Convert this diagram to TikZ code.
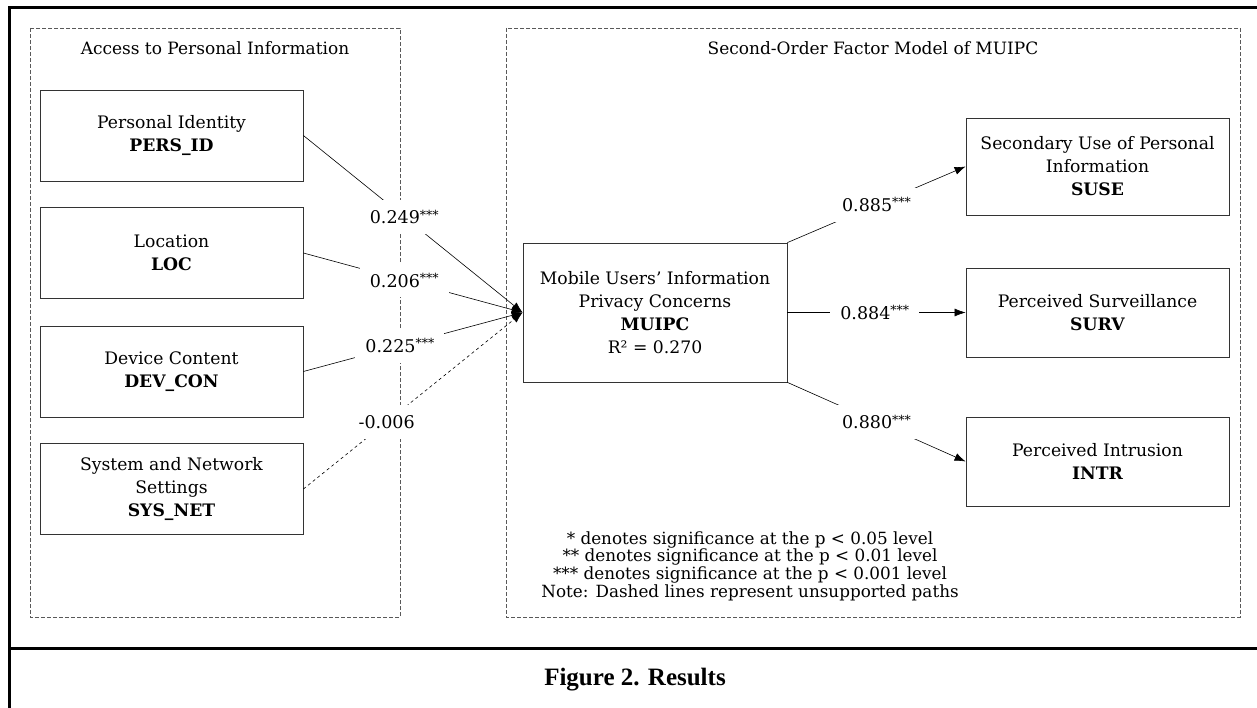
\documentclass[tikz,border=0pt]{standalone}
\usepackage{fontspec}
\setmainfont{DejaVu Serif}
\newfontfamily\capfont{Liberation Serif}
\usetikzlibrary{arrows.meta}
\usetikzlibrary{positioning}

\newcommand{\stars}{\raisebox{0.5ex}{\fontsize{12.5}{12.5}\selectfont ***}}

\tikzset{
  factor/.style={draw=black!80, line width=0.8pt, align=center, minimum width=263pt,
    minimum height=91pt, inner sep=0pt, font=\fontsize{17.2}{23}\selectfont},
  group/.style={draw=black!65, dash pattern=on 4pt off 2pt, line width=0.8pt},
  coef/.style={fill=white, inner xsep=10pt, inner ysep=10pt, font=\fontsize{17.5}{20}\selectfont},
  heading/.style={font=\fontsize{17}{20}\selectfont},
}

\begin{document}
\begin{tikzpicture}[x=1pt,y=-1pt,>={Latex[length=11pt,width=8pt]}]
        \useasboundingbox (0,0) rectangle (1257,708);
        % frame
        \draw[line width=3pt] (1257,8) -- (9,8) -- (9,708);
        \draw[line width=3pt] (9,648) -- (1257,648);
        % groups
        \draw[group] (30,28) rectangle (400,617);
        \draw[group] (506,28) rectangle (1240,617);
        \node[heading] (h_access) at (215,48) {Access to Personal Information};
        \node[heading] (h_model)  at (873,48) {Second-Order Factor Model of MUIPC};
        % factors
        \node[factor] (pers_id) at (171.5,135.5) {Personal Identity\\\textbf{PERS\_ID}};
        \node[factor] (loc)     at (171.5,253)   {Location\\\textbf{LOC}};
        \node[factor] (dev_con) at (171.5,371.5) {Device Content\\\textbf{DEV\_CON}};
        \node[factor] (sys_net) at (171.5,489)   {System and Network\\Settings\\\textbf{SYS\_NET}};
        \node[factor,minimum width=264pt,minimum height=139pt] (muipc) at (655,312.5)
          {Mobile Users’ Information\\Privacy Concerns\\\textbf{MUIPC}\\R² = 0.270};
        \node[factor,minimum height=97pt] (suse) at (1097.5,166.5)
          {Secondary Use of Personal\\Information\\\textbf{SUSE}};
        \node[factor,minimum height=89pt] (surv) at (1097.5,312.5) {Perceived Surveillance\\\textbf{SURV}};
        \node[factor,minimum height=89pt] (intr) at (1097.5,461.5) {Perceived Intrusion\\\textbf{INTR}};
        % paths
        \path[->,line width=0.6pt]
        (pers_id.east) edge node[coef,pos=0.46] {0.249\stars} (muipc.west)
        (loc.east)     edge node[coef,pos=0.46] {0.206\stars} (muipc.west)
        (dev_con.east) edge node[coef,pos=0.44] {0.225\stars} (muipc.west)
        (sys_net.east) edge[dashed] node[coef,pos=0.38] {-0.006} (muipc.west)
        (muipc.north east) edge node[coef,pos=0.5] {0.885\stars} (suse.west)
        (muipc.east)       edge node[coef,pos=0.49] {0.884\stars} (surv.west)
        (muipc.south east) edge node[coef,pos=0.5] {0.880\stars} (intr.west);
        % notes
        \node[align=center,font=\fontsize{16.8}{17.7}\selectfont] (notes) at (750,566)
          {* denotes significance at the p < 0.05 level\\
           ** denotes significance at the p < 0.01 level\\
           *** denotes significance at the p < 0.001 level\\
           Note: Dashed lines represent unsupported paths};
        % caption
        \node[font=\capfont\bfseries\fontsize{25}{28}\selectfont] (caption) at (635,680) {Figure 2. Results};
    \end{tikzpicture}
\end{document}
